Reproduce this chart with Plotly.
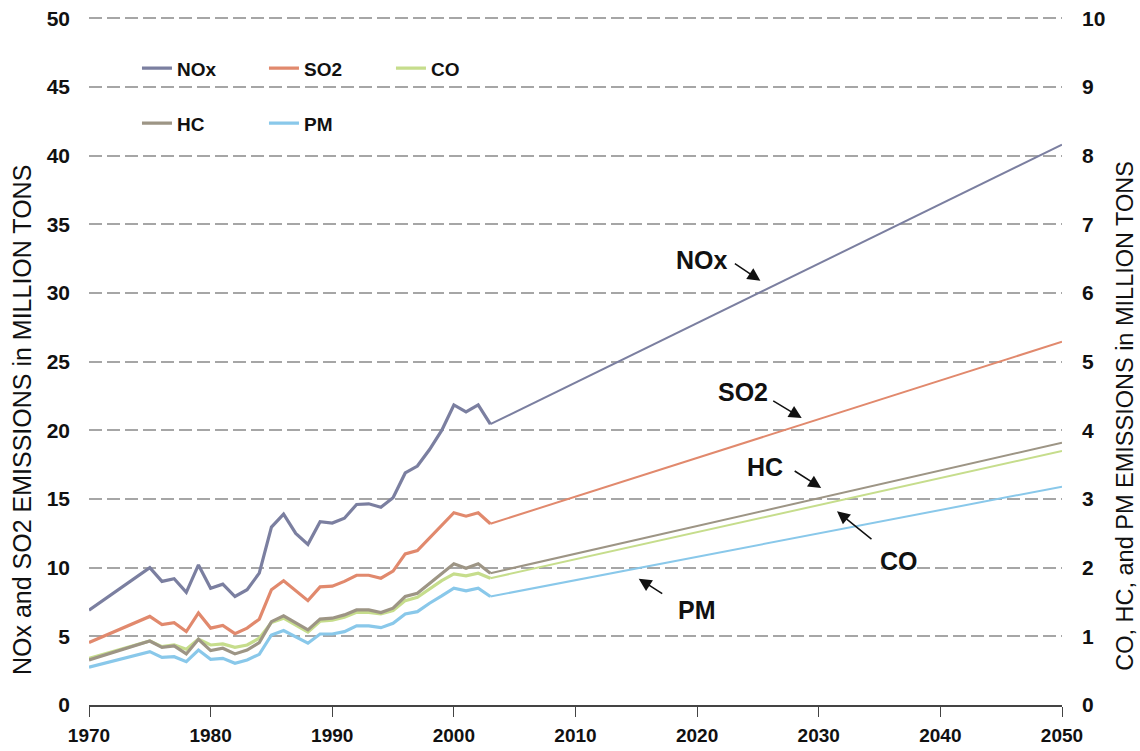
import plotly.graph_objects as go

# ---------------- data ----------------
years = [1970, 1975, 1976, 1977, 1978, 1979, 1980, 1981, 1982, 1983, 1984,
         1985, 1986, 1987, 1988, 1989, 1990, 1991, 1992, 1993, 1994, 1995,
         1996, 1997, 1998, 1999, 2000, 2001, 2002, 2003, 2050]

# left axis (million tons)
nox = [6.9, 10.0, 9.0, 9.2, 8.2, 10.2, 8.5, 8.8, 7.9, 8.4, 9.6,
       12.95, 13.9, 12.5, 11.7, 13.35, 13.25, 13.6, 14.6, 14.65, 14.4, 15.1,
       16.9, 17.4, 18.6, 20.0, 21.85, 21.35, 21.85, 20.45, 40.8]
so2 = [4.55, 6.45, 5.85, 6.0, 5.35, 6.7, 5.6, 5.8, 5.2, 5.6, 6.25,
       8.4, 9.05, 8.3, 7.6, 8.6, 8.65, 9.0, 9.45, 9.45, 9.23, 9.75,
       11.0, 11.25, 12.15, 13.05, 14.0, 13.75, 14.0, 13.2, 26.45]

# right axis (million tons)
co = [0.68, 0.932, 0.85, 0.874, 0.812, 0.958, 0.874, 0.89, 0.84, 0.874, 0.972,
      1.2, 1.264, 1.16, 1.064, 1.22, 1.234, 1.28, 1.35, 1.35, 1.326, 1.374,
      1.52, 1.57, 1.686, 1.812, 1.91, 1.88, 1.92, 1.846, 3.70]
hc = [0.656, 0.932, 0.84, 0.86, 0.744, 0.958, 0.792, 0.826, 0.744, 0.80, 0.908,
      1.214, 1.298, 1.19, 1.094, 1.25, 1.264, 1.312, 1.384, 1.384, 1.346, 1.41,
      1.58, 1.628, 1.774, 1.91, 2.056, 1.992, 2.056, 1.92, 3.82]
pm = [0.55, 0.778, 0.694, 0.704, 0.632, 0.80, 0.666, 0.68, 0.608, 0.656, 0.738,
      1.02, 1.084, 0.986, 0.90, 1.034, 1.034, 1.068, 1.152, 1.152, 1.126, 1.19,
      1.326, 1.36, 1.482, 1.588, 1.70, 1.662, 1.70, 1.58, 3.18]

x_ticks = [1970, 1980, 1990, 2000, 2010, 2020, 2030, 2040, 2050]
left_ticks = [0, 5, 10, 15, 20, 25, 30, 35, 40, 45, 50]
right_ticks = [0, 1, 2, 3, 4, 5, 6, 7, 8, 9, 10]

series = [
    # name, values, axis, colour, legend
    ("NOx", nox, "y", "#7b7fa0", "legend"),
    ("SO2", so2, "y", "#e1896d", "legend"),
    ("CO", co, "y2", "#c6dd8c", "legend"),
    ("HC", hc, "y2", "#9d9585", "legend2"),
    ("PM", pm, "y2", "#89c8ea", "legend2"),
]

FONT = "Liberation Sans, Arial, Helvetica, sans-serif"

fig = go.Figure()
for name, vals, yax, col, leg in series:
    n_hist = len(years) - 1  # last point is the 2050 projection
    fig.add_trace(go.Scatter(
        x=years[:n_hist], y=vals[:n_hist], yaxis=yax, mode="lines",
        name=name, legend=leg, legendgroup=name,
        line=dict(color=col, width=3.2), showlegend=True))
    fig.add_trace(go.Scatter(
        x=years[n_hist - 1:], y=vals[n_hist - 1:], yaxis=yax, mode="lines",
        name=name, legend=leg, legendgroup=name,
        line=dict(color=col, width=2), showlegend=False))

# ---------------- annotations ----------------
labels = [
    ("NOx", 2020.4, 32.4),
    ("SO2", 2023.8, 22.8),
    ("HC", 2025.6, 17.3),
    ("CO", 2036.6, 10.5),
    ("PM", 2020.0, 6.9),
]
arrows = [
    (2025.2, 30.9, -27, -18),
    (2028.6, 20.9, -30, -18),
    (2030.2, 15.8, -28, -18),
    (2031.5, 14.1, 36, 29),
    (2015.2, 9.2, 25, 16),
]
annotations = []
for txt, ax_, ay_ in labels:
    annotations.append(dict(x=ax_, y=ay_, xref="x", yref="y", text=txt,
                            showarrow=False,
                            font=dict(family=FONT, size=25, color="#111111", weight="bold")))
for x_, y_, dx, dy in arrows:
    annotations.append(dict(x=x_, y=y_, xref="x", yref="y", text="",
                            showarrow=True, ax=dx, ay=dy, axref="pixel", ayref="pixel",
                            arrowhead=2, arrowsize=1.7, arrowwidth=1.5, arrowcolor="#111111"))

annotations.append(dict(x=-0.069, y=0.414, xref="paper", yref="paper",
                        text="NOx and SO2 EMISSIONS in MILLION TONS", textangle=-90,
                        showarrow=False, xanchor="center", yanchor="middle",
                        font=dict(family=FONT, size=25, color="#111111")))
annotations.append(dict(x=1.0645, y=0.420, xref="paper", yref="paper",
                        text="CO, HC, and PM EMISSIONS in MILLION TONS", textangle=-90,
                        showarrow=False, xanchor="center", yanchor="middle",
                        font=dict(family=FONT, size=23.5, color="#111111")))

fig.update_layout(
    width=1140, height=751,
    margin=dict(l=89, r=78, t=16.6, b=46, autoexpand=False),
    paper_bgcolor="white", plot_bgcolor="white",
    annotations=annotations,
    xaxis=dict(
        range=[1970, 2050], tickvals=x_ticks, ticktext=[str(v) for v in x_ticks],
        showgrid=False, zeroline=False, automargin=False,
        showline=True, linecolor="#444444", linewidth=1.5,
        ticks="outside", ticklen=10, tickwidth=1.3, tickcolor="#444444",
        tickfont=dict(family=FONT, size=19, color="#111111", weight="bold"),
        ticklabelstandoff=2, ticklabeloverflow="allow",
    ),
    yaxis=dict(
        range=[0, 50.1], tickvals=left_ticks, ticktext=[str(v) for v in left_ticks],
        showgrid=True, gridcolor="#a6a6a6", gridwidth=2, griddash="13px,5px",
        zeroline=False, showline=False, ticks="", automargin=False,
        tickfont=dict(family=FONT, size=21, color="#111111", weight="bold"),
        ticklabelstandoff=18, ticklabeloverflow="allow",
    ),
    yaxis2=dict(
        range=[0, 10.02], tickvals=right_ticks, ticktext=[str(v) for v in right_ticks],
        overlaying="y", side="right", showgrid=False, zeroline=False,
        showline=False, ticks="", automargin=False,
        tickfont=dict(family=FONT, size=21, color="#111111", weight="bold"),
        ticklabelstandoff=19, ticklabeloverflow="allow",
    ),
    legend=dict(
        orientation="h", x=0.0493, y=0.9254, xanchor="left", yanchor="middle",
        entrywidth=82, entrywidthmode="pixels", bgcolor="rgba(0,0,0,0)",
        font=dict(family=FONT, size=19, color="#111111", weight="bold"),
        traceorder="normal",
    ),
    legend2=dict(
        orientation="h", x=0.0493, y=0.8455, xanchor="left", yanchor="middle",
        entrywidth=82, entrywidthmode="pixels", bgcolor="rgba(0,0,0,0)",
        font=dict(family=FONT, size=19, color="#111111", weight="bold"),
        traceorder="normal",
    ),
    showlegend=True,
)

fig.write_html("out.html", config={"displayModeBar": False},
               post_script="document.body.style.margin='0px';")
